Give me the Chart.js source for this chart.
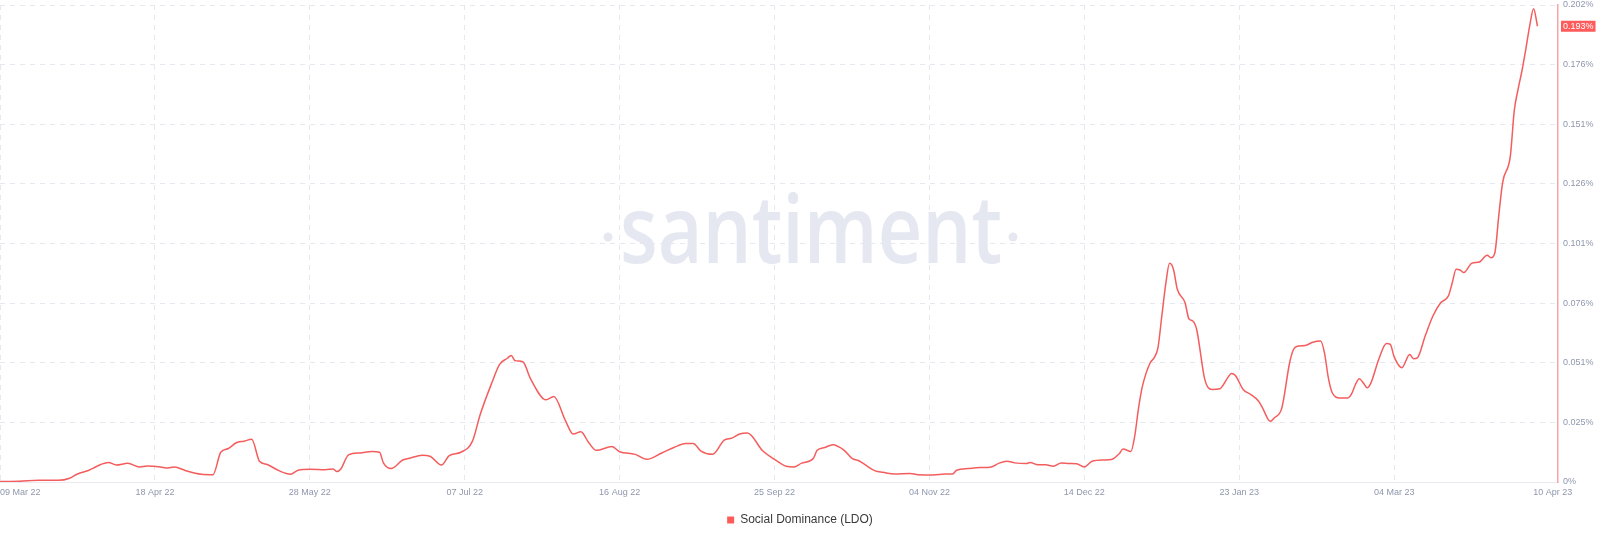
<!DOCTYPE html>
<html>
<head>
<meta charset="utf-8">
<script src="https://cdn.jsdelivr.net/npm/chart.js@4.4.1/dist/chart.umd.min.js"></script>
<style>
  html, body { margin: 0; padding: 0; background: #fff; }
  canvas { display: block; }
</style>
</head>
<body>
<canvas id="chart" width="1600" height="541"></canvas>
<script>
// Day offsets from 09 Mar 22, and social dominance (%)
const days = [
    0, 5, 10, 15, 18, 20, 23, 24, 26, 28, 30, 33, 36, 38, 41, 43, 45, 48, 52, 55,
    57, 59, 61, 63, 65, 67, 69, 72, 75, 77, 80, 84, 86, 87, 88, 90, 93, 96, 98, 99,
    101, 104, 106, 109, 111, 114, 116, 119, 122, 124, 127, 129, 131, 132, 133, 135, 137,
    141, 143, 146, 148, 150, 152, 154, 158, 160, 164, 167, 171, 174, 177, 179, 181, 184,
    187, 189, 191, 193, 197, 200, 203, 205, 207, 210, 211, 213, 215, 218, 220, 222, 224,
    226, 228, 231, 235, 237, 241, 244, 246, 247, 250, 253, 256, 258, 260, 262, 265, 266,
    268, 270, 272, 274, 276, 278, 280, 282, 285, 287, 289, 290, 292, 293, 294, 295, 297,
    298, 299, 300, 301, 302, 303, 304, 306, 307, 308, 309, 311, 312, 313, 315, 317, 318,
    319, 321, 323, 325, 326, 328, 329, 331, 333, 334, 335, 337, 339, 341, 342, 343, 344,
    346, 348, 349, 350, 351, 352, 353, 354, 356, 358, 359, 360, 362, 364, 365, 366, 368,
    370, 372, 374, 375, 376, 377, 378, 380, 382, 384, 385, 386, 387, 388, 390, 391, 392,
    393, 394, 395, 396, 397
];
const dominance = [
    0.0002, 0.0003, 0.0007, 0.0007, 0.0016, 0.0034, 0.0050, 0.0058, 0.0074, 0.0083, 0.0072, 0.0079, 0.0064, 0.0068, 0.0065, 0.0059, 0.0064, 0.0048, 0.0033, 0.0031,
    0.0126, 0.0142, 0.0166, 0.0173, 0.0181, 0.0088, 0.0074, 0.0048, 0.0033, 0.0050, 0.0054, 0.0052, 0.0055, 0.0044, 0.0055, 0.0115, 0.0123, 0.0129, 0.0126, 0.0081,
    0.0057, 0.0093, 0.0102, 0.0113, 0.0109, 0.0072, 0.0112, 0.0126, 0.0173, 0.0286, 0.0420, 0.0498, 0.0524, 0.0536, 0.0514, 0.0509, 0.0437,
    0.0348, 0.0362, 0.0260, 0.0203, 0.0213, 0.0167, 0.0134, 0.0150, 0.0128, 0.0117, 0.0096, 0.0124, 0.0146, 0.0163, 0.0163, 0.0131, 0.0117,
    0.0177, 0.0186, 0.0203, 0.0207, 0.0131, 0.0096, 0.0067, 0.0064, 0.0080, 0.0100, 0.0134, 0.0146, 0.0158, 0.0134, 0.0100, 0.0088, 0.0066,
    0.0047, 0.0041, 0.0034, 0.0036, 0.0031, 0.0030, 0.0034, 0.0034, 0.0050, 0.0057, 0.0061, 0.0064, 0.0080, 0.0088, 0.0081, 0.0078, 0.0083,
    0.0073, 0.0073, 0.0067, 0.0080, 0.0078, 0.0077, 0.0064, 0.0088, 0.0093, 0.0095, 0.0120, 0.0140, 0.0129, 0.0194, 0.0314, 0.0406, 0.0505,
    0.0526, 0.0568, 0.0703, 0.0837, 0.0926, 0.0901, 0.0816, 0.0759, 0.0691, 0.0682, 0.0646, 0.0441, 0.0399, 0.0392, 0.0395, 0.0441, 0.0460,
    0.0451, 0.0392, 0.0370, 0.0342, 0.0314, 0.0257, 0.0271, 0.0314, 0.0505, 0.0561, 0.0575, 0.0578, 0.0592, 0.0597, 0.0547, 0.0441, 0.0378,
    0.0356, 0.0356, 0.0373, 0.0413, 0.0437, 0.0420, 0.0399, 0.0420, 0.0519, 0.0587, 0.0583, 0.0530, 0.0484, 0.0540, 0.0522, 0.0526, 0.0618,
    0.0703, 0.0759, 0.0788, 0.0844, 0.0901, 0.0898, 0.0887, 0.0926, 0.0932, 0.0960, 0.0950, 0.0971, 0.1127, 0.1268, 0.1381, 0.1572, 0.1664,
    0.1742, 0.1834, 0.1933, 0.2004, 0.1930
];

const xTickDays = [0, 40, 80, 120, 160, 200, 240, 280, 320, 360, 406];
const xTickLabels = ['09 Mar 22', '18 Apr 22', '28 May 22', '07 Jul 22', '16 Aug 22', '25 Sep 22',
                     '04 Nov 22', '14 Dec 22', '23 Jan 23', '04 Mar 23', '10 Apr 23'];
const yTickValues = [0, 0.02525, 0.0505, 0.07575, 0.101, 0.12625, 0.1515, 0.17675, 0.202];
const yTickLabels = ['0%', '0.025%', '0.051%', '0.076%', '0.101%', '0.126%', '0.151%', '0.176%', '0.202%'];

const lineColor = '#f45d5d';
const tickColor = '#8f97ad';
const gridColor = '#e6e8ef';
const tickFont = { family: '"Liberation Sans", Arial, sans-serif', size: 9 };

// faint santiment watermark in the middle of the plot
const watermark = {
    id: 'watermark',
    beforeDatasetsDraw(chart) {
        const ctx = chart.ctx;
        ctx.save();
        ctx.fillStyle = '#e5e8f1';
        ctx.font = '600 94px "Open Sans"';
        const w = ctx.measureText('santiment').width;
        ctx.translate(811, 263);
        ctx.scale(382 / w, 1);
        ctx.textAlign = 'center';
        ctx.textBaseline = 'alphabetic';
        ctx.fillText('santiment', 0, 0);
        ctx.restore();
        ctx.save();
        ctx.fillStyle = '#e5e8f1';
        [608, 1013].forEach(x => {
            ctx.beginPath();
            ctx.arc(x, 237, 4.5, 0, Math.PI * 2);
            ctx.fill();
        });
        ctx.restore();
    }
};

// red badge with the latest value on the right axis
const lastBadge = {
    id: 'lastBadge',
    afterDraw(chart) {
        const ctx = chart.ctx;
        const y = chart.scales.y.getPixelForValue(dominance[dominance.length - 1]);
        const x = chart.chartArea.right + 3;
        const label = dominance[dominance.length - 1].toFixed(3) + '%';
        ctx.save();
        ctx.font = '9px "Liberation Sans", Arial, sans-serif';
        const tw = ctx.measureText(label).width;
        ctx.fillStyle = '#ff5b5b';
        ctx.fillRect(x, y - 5.5, tw + 4, 11);
        ctx.fillStyle = '#fff';
        ctx.textBaseline = 'middle';
        ctx.fillText(label, x + 2, y + 0.5);
        ctx.restore();
    }
};

new Chart(document.getElementById('chart').getContext('2d'), {
    type: 'line',
    data: {
        datasets: [{
            label: 'Social Dominance (LDO)',
            data: days.map((d, i) => ({ x: d, y: dominance[i] })),
            borderColor: lineColor,
            backgroundColor: '#ff5b5b',
            borderWidth: 1.5,
            pointRadius: 0,
            cubicInterpolationMode: 'monotone',
            fill: false
        }]
    },
    options: {
        responsive: false,
        animation: false,
        devicePixelRatio: 1,
        layout: { padding: { left: 0, right: 0, top: 5, bottom: 5 } },
        plugins: {
            tooltip: { enabled: false },
            legend: {
                position: 'bottom',
                labels: {
                    boxWidth: 7,
                    boxHeight: 7,
                    padding: 10,
                    color: '#3a3a3a',
                    font: { family: '"Liberation Sans", Arial, sans-serif', size: 12 },
                    generateLabels: chart => Chart.defaults.plugins.legend.labels.generateLabels(chart)
                        .map(l => ({ ...l, lineWidth: 0 }))
                }
            }
        },
        scales: {
            x: {
                type: 'linear',
                min: 0,
                max: 402.3,
                afterBuildTicks: scale => { scale.ticks = xTickDays.map(v => ({ value: v })); },
                afterFit: scale => {
                    scale.height = 22;
                    scale.paddingLeft = 0;
                    scale.paddingRight = 0;
                },
                ticks: {
                    autoSkip: false,
                    maxRotation: 0,
                    align: 'inner',
                    padding: 5,
                    color: tickColor,
                    font: tickFont,
                    callback: (v, i) => xTickLabels[i]
                },
                grid: {
                    drawTicks: false,
                    color: c => (c.tick && c.tick.value > 402) ? 'rgba(0,0,0,0)' : gridColor
                },
                border: { display: true, color: '#e9ebf1', width: 1, dash: [5, 5] }
            },
            y: {
                position: 'right',
                min: 0,
                max: 0.202,
                afterBuildTicks: scale => { scale.ticks = yTickValues.map(v => ({ value: v })); },
                afterFit: scale => {
                    scale.width = 42;
                    scale.paddingTop = 0;
                    scale.paddingBottom = 0;
                },
                ticks: {
                    padding: 5,
                    color: tickColor,
                    font: tickFont,
                    callback: (v, i) => yTickLabels[i]
                },
                grid: {
                    drawTicks: false,
                    color: c => (c.tick && c.tick.value === 0) ? 'rgba(0,0,0,0)' : gridColor
                },
                border: { display: true, color: '#f5a5a5', width: 1.5, dash: [5, 5] }
            }
        }
    },
    plugins: [watermark, lastBadge]
});
</script>
</body>
</html>
